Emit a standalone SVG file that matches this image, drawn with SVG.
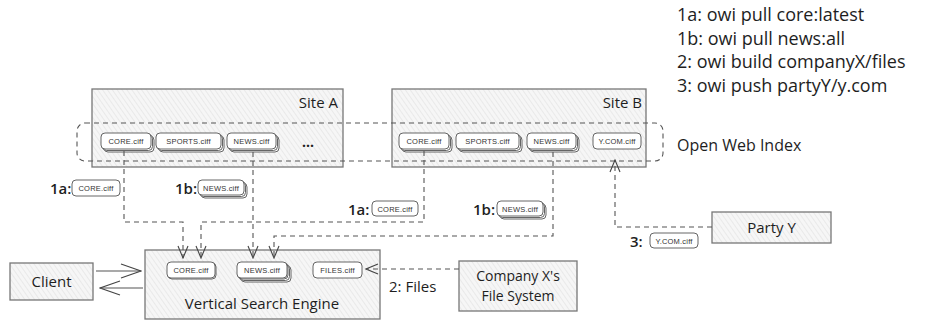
<svg xmlns="http://www.w3.org/2000/svg" width="925" height="322" viewBox="0 0 925 322">
  <defs>
    <pattern id="hatch" patternUnits="userSpaceOnUse" width="4" height="4" patternTransform="rotate(-35)">
      <rect width="4" height="4" fill="#f6f6f6"/>
      <line x1="0" y1="0" x2="0" y2="4" stroke="#d6d6d6" stroke-width="0.8"/>
    </pattern>
    <marker id="open" viewBox="0 0 14 12" refX="13" refY="6" markerWidth="14" markerHeight="12" markerUnits="userSpaceOnUse" orient="auto">
      <path d="M1,1 L13,6 L1,11" fill="none" stroke="#444" stroke-width="1.1"/>
    </marker>
    <marker id="openBig" viewBox="0 0 22 16" refX="21" refY="8" markerWidth="22" markerHeight="16" markerUnits="userSpaceOnUse" orient="auto">
      <path d="M1,1 L21,8 L1,15" fill="none" stroke="#444" stroke-width="1.1"/>
    </marker>
  </defs>
  <style>
    .box { fill: url(#hatch); stroke: #777; stroke-width: 1.3; }
    .pill { fill: #ffffff; stroke: #555; stroke-width: 0.9; }
    .ptxt { font-family: "Liberation Sans", Arial, sans-serif; font-size: 7.5px; fill: #333; text-anchor: middle; letter-spacing: 0.2px; }
    .t { font-family: "Open Sans", "Liberation Sans", sans-serif; fill: #1e1e1e; }
    .dash { fill: none; stroke: #555; stroke-width: 1.1; stroke-dasharray: 5 4; }
    .solid { fill: none; stroke: #555; stroke-width: 1.1; }
    .lbl { font-family: "Open Sans", "Liberation Sans", sans-serif; font-size: 15px; font-weight: 600; fill: #1e1e1e; }
  </style>

  <!-- command legend -->
  <g id="legend" class="t" font-size="18">
    <text x="677" y="21">1a: owi pull core:latest</text>
    <text x="677" y="45">1b: owi pull news:all</text>
    <text x="677" y="68">2: owi build companyX/files</text>
    <text x="677" y="92">3: owi push partyY/y.com</text>
  </g>

  <!-- Site A -->
  <g id="siteA">
    <rect class="box" x="92" y="89" width="251" height="78"/>
    <text class="t" x="338" y="108" font-size="15" text-anchor="end">Site A</text>
    <g>
      <rect class="pill" x="104" y="136" width="50" height="16" rx="4"/>
      <rect class="pill" x="102.5" y="134.5" width="50" height="16" rx="4"/>
      <rect class="pill" x="101" y="133" width="50" height="16" rx="4"/>
      <text class="ptxt" x="126" y="144">CORE.ciff</text>
    </g>
    <g>
      <rect class="pill" x="159" y="136" width="65" height="16" rx="4"/>
      <rect class="pill" x="157.5" y="134.5" width="65" height="16" rx="4"/>
      <rect class="pill" x="156" y="133" width="65" height="16" rx="4"/>
      <text class="ptxt" x="188.5" y="144">SPORTS.ciff</text>
    </g>
    <g>
      <rect class="pill" x="230" y="136" width="49" height="16" rx="4"/>
      <rect class="pill" x="228.5" y="134.5" width="49" height="16" rx="4"/>
      <rect class="pill" x="227" y="133" width="49" height="16" rx="4"/>
      <text class="ptxt" x="251.5" y="144">NEWS.ciff</text>
    </g>
    <text class="t" x="308" y="147" font-size="14" font-weight="700" text-anchor="middle">...</text>
  </g>

  <!-- Site B -->
  <g id="siteB">
    <rect class="box" x="392" y="89" width="254" height="78"/>
    <text class="t" x="642" y="108" font-size="15" text-anchor="end">Site B</text>
    <g>
      <rect class="pill" x="402" y="136" width="50" height="16" rx="4"/>
      <rect class="pill" x="400.5" y="134.5" width="50" height="16" rx="4"/>
      <rect class="pill" x="399" y="133" width="50" height="16" rx="4"/>
      <text class="ptxt" x="424" y="144">CORE.ciff</text>
    </g>
    <g>
      <rect class="pill" x="459" y="136" width="63" height="16" rx="4"/>
      <rect class="pill" x="457.5" y="134.5" width="63" height="16" rx="4"/>
      <rect class="pill" x="456" y="133" width="63" height="16" rx="4"/>
      <text class="ptxt" x="487.5" y="144">SPORTS.ciff</text>
    </g>
    <g>
      <rect class="pill" x="530" y="136" width="49" height="16" rx="4"/>
      <rect class="pill" x="528.5" y="134.5" width="49" height="16" rx="4"/>
      <rect class="pill" x="527" y="133" width="49" height="16" rx="4"/>
      <text class="ptxt" x="551.5" y="144">NEWS.ciff</text>
    </g>
    <g>
      <rect class="pill" x="593" y="133" width="48" height="16" rx="4"/>
      <text class="ptxt" x="617" y="144">Y.COM.ciff</text>
    </g>
  </g>

  <!-- Open Web Index boundary -->
  <g id="owi">
    <rect class="dash" x="77" y="123" width="586" height="38" rx="8"/>
    <text class="t" x="677" y="151" font-size="16">Open Web Index</text>
  </g>

  <!-- Vertical Search Engine -->
  <g id="vse">
    <rect class="box" x="145" y="250" width="235" height="69"/>
    <g>
      <rect class="pill" x="168" y="263" width="48" height="16" rx="4"/>
      <rect class="pill" x="167" y="262" width="48" height="16" rx="4"/>
      <text class="ptxt" x="191" y="273">CORE.ciff</text>
    </g>
    <g>
      <rect class="pill" x="241" y="266" width="50" height="16" rx="4"/>
      <rect class="pill" x="239.5" y="264.5" width="50" height="16" rx="4"/>
      <rect class="pill" x="238" y="263" width="50" height="16" rx="4"/>
      <rect class="pill" x="237" y="262" width="50" height="16" rx="4"/>
      <text class="ptxt" x="262" y="273">NEWS.ciff</text>
    </g>
    <g>
      <rect class="pill" x="313" y="262" width="49" height="16" rx="4"/>
      <text class="ptxt" x="337.5" y="273">FILES.ciff</text>
    </g>
    <text class="t" x="262" y="309" font-size="15" text-anchor="middle">Vertical Search Engine</text>
  </g>

  <!-- Client -->
  <g id="client">
    <rect class="box" x="10" y="263" width="83" height="37"/>
    <text class="t" x="51.5" y="287" font-size="15" text-anchor="middle">Client</text>
  </g>

  <!-- Company X file system -->
  <g id="companyX">
    <rect class="box" x="459" y="261" width="118" height="50"/>
    <text class="t" x="518" y="281" font-size="14" text-anchor="middle">Company X's</text>
    <text class="t" x="518" y="301" font-size="14" text-anchor="middle">File System</text>
  </g>

  <!-- Party Y -->
  <g id="partyY">
    <rect class="box" x="712" y="212" width="119" height="31"/>
    <text class="t" x="771.5" y="233" font-size="15" text-anchor="middle">Party Y</text>
  </g>

  <!-- connectors -->
  <g id="connectors">
    <path class="dash" d="M124,151 V222 H183 V258" marker-end="url(#open)"/>
    <path class="dash" d="M424,151 V222 H201 V258" marker-end="url(#open)"/>
    <path class="dash" d="M253,152 V258" marker-end="url(#open)"/>
    <path class="dash" d="M553,152 V236 H274 V258" marker-end="url(#open)"/>
    <path class="dash" d="M712,227 H615 V160" marker-end="url(#open)"/>
    <path class="dash" d="M459,269 H366" marker-end="url(#open)"/>
    <path class="solid" d="M96,271 H141" marker-end="url(#openBig)"/>
    <path class="solid" d="M143,288 H100" marker-end="url(#openBig)"/>

    <!-- transfer labels -->
    <text class="lbl" x="50" y="194">1a:</text>
    <rect class="pill" x="72" y="180" width="48" height="16" rx="4"/>
    <text class="ptxt" x="96" y="191">CORE.ciff</text>

    <text class="lbl" x="175" y="194">1b:</text>
    <rect class="pill" x="201" y="183" width="46" height="15" rx="4"/>
    <rect class="pill" x="199.5" y="181.5" width="46" height="15" rx="4"/>
    <rect class="pill" x="198" y="180" width="46" height="15" rx="4"/>
    <text class="ptxt" x="221" y="190.5">NEWS.ciff</text>

    <text class="lbl" x="348" y="215">1a:</text>
    <rect class="pill" x="372" y="201" width="46" height="15" rx="4"/>
    <text class="ptxt" x="395" y="211.5">CORE.ciff</text>

    <text class="lbl" x="473" y="215">1b:</text>
    <rect class="pill" x="500" y="204" width="46" height="15" rx="4"/>
    <rect class="pill" x="498.5" y="202.5" width="46" height="15" rx="4"/>
    <rect class="pill" x="497" y="201" width="46" height="15" rx="4"/>
    <text class="ptxt" x="520" y="211.5">NEWS.ciff</text>

    <text class="lbl" x="630" y="247">3:</text>
    <rect class="pill" x="650" y="233" width="48" height="15" rx="4"/>
    <text class="ptxt" x="674" y="243.5">Y.COM.ciff</text>

    <text class="t" x="389" y="292" font-size="15">2: Files</text>
  </g>
</svg>
